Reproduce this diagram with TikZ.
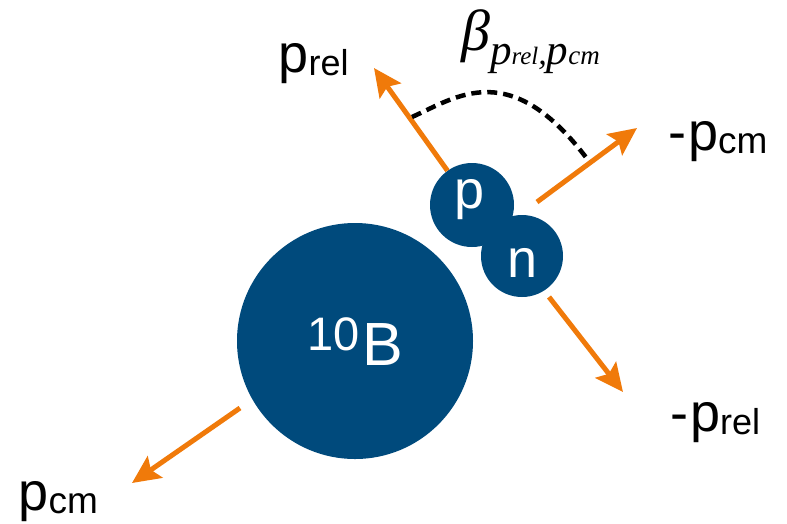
\documentclass[tikz,border=0pt]{standalone}
\usepackage{fontspec}
\setmainfont{Liberation Sans}
\newfontfamily\timesf{Liberation Serif}
\usetikzlibrary{arrows.meta}
\definecolor{nblue}{RGB}{0,74,124}
\definecolor{morange}{RGB}{240,122,10}
\newcommand{\fs}[1]{\fontsize{#1}{#1}\selectfont}
\begin{document}
\begin{tikzpicture}[x=1pt,y=-1pt,
  atom/.style={circle, fill=nblue, draw=none, inner sep=0pt},
  inlbl/.style={text=white, inner sep=0pt},
  lbl/.style={anchor=base west, inner sep=0pt, text=black},
  mom/.style={draw=morange, line width=5pt,
     -{Stealth[length=28pt,width=26pt,inset=5pt]}},
  angarc/.style={draw=black, line width=4.5pt, dash pattern=on 10pt off 6pt}]
\useasboundingbox (0,0) rectangle (787,523);
% particles
\node[atom, minimum size=236pt] (B) at (355,341) {};
\node[atom, minimum size=84pt] (p) at (472,205) {};
\node[atom, minimum size=82pt] (n) at (522,256) {};
\node[inlbl, anchor=base west] (Bt) at (307,365) {\raisebox{15pt}{\fs{47}10}\kern3pt\fs{61}B};
\node[inlbl] (pt) at (470,200) {\fs{54}p};
\node[inlbl] (nt) at (523,263) {\fs{54}n};
% arrow ends
\coordinate (aT) at (374,68);
\coordinate (bS) at (537,202);
\coordinate (bT) at (637,128);
\coordinate (cS) at (549,297);
\coordinate (cT) at (623,392);
\coordinate (dS) at (240,408);
\coordinate (dT) at (132,483);
\draw[mom] (p) -- (aT);
\draw[mom] (bS) -- (bT);
\draw[mom] (cS) -- (cT);
\draw[mom] (dS) -- (dT);
% angle arc
\coordinate (arcS) at (412,117);
\coordinate (arcE) at (588,160);
\draw[angarc] (arcS) .. controls (457.5,96.5) and (510.6,56.8) .. (arcE);
% labels
\node[lbl] (lprel) at (278.5,72) {\fs{54}p\raisebox{-3pt}{\fs{36}rel}};
\node[lbl] (lmpcm) at (668,150.6) {\fs{54}-\kern2pt p\raisebox{-3pt}{\fs{37}cm}};
\node[lbl] (lmprel) at (670,431.6) {\fs{54}-\kern2pt p\raisebox{-3pt}{\fs{36}rel}};
\node[lbl] (lpcm) at (18.5,510.6) {\fs{54}p\raisebox{-3pt}{\fs{37}cm}};
\node[lbl] (lbeta) at (461,50) {\timesf\itshape\fs{58}β\kern0pt\raisebox{-14pt}{\fs{43}p\fs{25}rel\fs{34},\fs{43}p\fs{27}cm}};
\end{tikzpicture}
\end{document}
